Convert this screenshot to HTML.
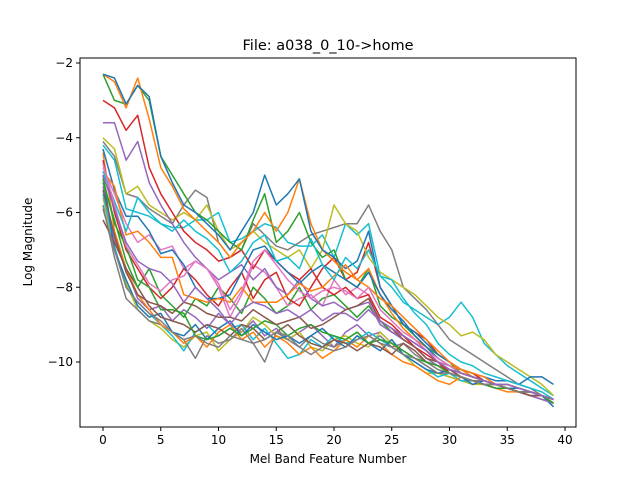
<!DOCTYPE html>
<html><head><meta charset="utf-8">
<style>
body{margin:0;background:#fff;}
svg{display:block;font-family:"DejaVu Sans","Liberation Sans",sans-serif;}
</style></head>
<body>
<svg id="chart" width="640" height="480"></svg>
<script>
const categories = Array.from({length:40},(_, i)=>i);
const xTicks = [0,5,10,15,20,25,30,35,40];
const yTicks = [-2,-4,-6,-8,-10];
const s1=[-2.3,-2.4,-3.1,-2.6,-2.9,-4.5,-5.2,-5.8,-6.0,-6.3,-6.6,-7.0,-6.5,-6.0,-5.0,-5.8,-5.5,-5.1,-6.5,-7.0,-7.2,-7.5,-7.3,-6.5,-8.0,-8.5,-9.0,-9.2,-9.5,-9.8,-10.0,-10.2,-10.3,-10.4,-10.5,-10.5,-10.6,-10.4,-10.4,-10.6];
const s2=[-2.3,-2.5,-3.2,-2.4,-3.5,-4.8,-5.3,-5.9,-6.2,-6.5,-6.8,-7.2,-6.8,-6.5,-6.0,-6.5,-6.0,-5.1,-6.3,-7.0,-7.3,-7.6,-7.8,-7.5,-8.2,-8.7,-9.1,-9.4,-9.6,-9.9,-10.1,-10.2,-10.4,-10.5,-10.6,-10.7,-10.7,-10.8,-10.9,-11.0];
const s3=[-2.3,-3.0,-3.1,-2.6,-3.0,-4.5,-5.0,-5.5,-6.0,-6.2,-6.5,-6.8,-7.0,-6.2,-5.5,-6.8,-6.5,-6.0,-6.8,-7.2,-7.0,-7.8,-8.0,-7.5,-8.5,-8.8,-9.0,-9.3,-9.6,-9.8,-10.0,-10.3,-10.4,-10.5,-10.6,-10.7,-10.8,-10.8,-10.9,-11.1];
const s4=[-3.0,-3.2,-3.8,-3.4,-4.8,-5.5,-6.0,-6.5,-6.8,-7.0,-7.3,-7.2,-7.0,-7.5,-7.0,-7.3,-7.6,-7.8,-7.5,-8.0,-8.2,-8.0,-8.3,-8.2,-8.8,-9.0,-9.3,-9.6,-9.8,-10.0,-10.3,-10.4,-10.5,-10.6,-10.6,-10.7,-10.8,-10.8,-10.9,-11.0];
const s5=[-3.6,-3.6,-4.6,-4.1,-5.2,-5.8,-6.3,-6.8,-7.2,-7.5,-7.8,-7.6,-7.4,-7.8,-7.5,-8.0,-8.2,-7.8,-8.3,-8.5,-8.4,-8.6,-8.5,-8.4,-9.0,-9.2,-9.4,-9.6,-9.9,-10.1,-10.3,-10.4,-10.5,-10.6,-10.7,-10.7,-10.8,-10.9,-11.0,-11.1];
const s6=[-4.0,-4.3,-5.5,-5.3,-5.8,-6.0,-6.2,-6.0,-6.2,-5.8,-6.5,-7.0,-6.8,-6.5,-6.8,-7.0,-7.2,-7.0,-7.5,-7.0,-5.8,-6.3,-6.5,-7.2,-7.6,-7.8,-8.0,-8.2,-8.5,-8.8,-9.0,-9.3,-9.2,-9.4,-9.8,-10.0,-10.2,-10.4,-10.6,-10.9];
const s7=[-4.1,-4.5,-5.5,-5.6,-5.9,-6.1,-6.3,-5.8,-5.4,-5.6,-6.8,-7.2,-7.0,-6.3,-6.6,-6.9,-7.0,-6.8,-6.6,-6.5,-6.4,-6.3,-6.3,-5.8,-6.5,-7.0,-8.0,-8.3,-8.6,-9.0,-9.4,-9.6,-9.8,-10.0,-10.2,-10.4,-10.6,-10.7,-10.9,-11.1];
const s8=[-4.2,-4.6,-5.9,-6.0,-6.1,-6.3,-6.4,-6.4,-6.2,-6.2,-6.0,-6.8,-6.7,-6.5,-6.3,-6.4,-6.8,-6.9,-6.9,-6.6,-7.2,-6.3,-6.6,-6.3,-7.7,-8.0,-8.4,-8.6,-8.8,-9.0,-8.8,-8.4,-8.8,-9.5,-9.8,-10.1,-10.3,-10.5,-10.7,-10.9];
const s9=[-4.8,-5.5,-6.3,-6.8,-6.6,-7.0,-6.9,-7.5,-7.3,-7.5,-8.0,-8.8,-8.2,-7.4,-7.6,-8.0,-8.5,-8.3,-8.2,-8.5,-7.8,-8.2,-8.0,-8.2,-9.0,-9.2,-9.3,-9.5,-9.7,-10.0,-10.1,-10.3,-10.4,-10.5,-10.6,-10.7,-10.8,-10.9,-10.9,-11.1];
const s10=[-6.2,-6.8,-7.5,-8.0,-8.5,-8.8,-8.9,-9.0,-9.2,-9.0,-9.1,-9.3,-9.0,-9.1,-9.4,-9.2,-9.0,-9.3,-9.5,-9.6,-9.4,-9.5,-9.7,-9.5,-9.6,-9.8,-9.5,-9.7,-10.0,-10.1,-10.2,-10.4,-10.5,-10.6,-10.6,-10.7,-10.8,-10.8,-10.9,-11.0];
const s11=[-5.0,-7.0,-7.8,-8.5,-8.8,-8.7,-9.2,-9.3,-9.0,-9.4,-9.1,-8.9,-9.3,-9.0,-9.2,-9.4,-9.3,-9.5,-9.3,-9.1,-9.4,-9.6,-9.3,-9.5,-9.7,-9.4,-9.8,-10.0,-10.2,-10.3,-10.2,-10.4,-10.6,-10.5,-10.6,-10.7,-10.8,-10.9,-10.9,-11.2];
const s12=[-4.4,-6.5,-7.5,-8.2,-8.6,-9.0,-9.2,-9.5,-9.3,-9.6,-9.2,-9.0,-9.4,-9.2,-9.6,-9.3,-9.5,-9.8,-9.6,-9.9,-9.7,-9.4,-9.6,-9.3,-9.5,-9.8,-10.0,-10.1,-10.3,-10.5,-10.6,-10.4,-10.5,-10.6,-10.7,-10.8,-10.8,-10.9,-11.0,-11.1];
const s13=[-5.2,-6.2,-7.3,-8.0,-7.5,-8.2,-8.5,-8.8,-8.3,-8.5,-8.0,-8.3,-8.7,-8.0,-8.3,-8.7,-8.5,-8.0,-8.6,-8.3,-8.2,-8.5,-8.8,-8.5,-8.9,-9.2,-9.3,-9.5,-9.7,-10.0,-10.1,-10.2,-10.3,-10.5,-10.6,-10.6,-10.7,-10.8,-10.9,-11.0];
const s14=[-5.8,-7.2,-8.3,-8.6,-8.9,-9.0,-9.2,-9.4,-9.9,-9.3,-9.5,-9.4,-9.1,-9.5,-10.0,-9.2,-9.4,-9.6,-9.3,-9.5,-9.6,-9.4,-9.2,-9.5,-9.3,-9.6,-9.5,-9.8,-10.0,-10.2,-10.3,-10.4,-10.5,-10.5,-10.6,-10.7,-10.7,-10.8,-10.9,-11.0];
const s15=[-5.5,-6.9,-8.0,-8.4,-8.7,-9.0,-9.3,-9.7,-9.2,-9.0,-9.3,-9.1,-9.0,-9.4,-9.1,-9.5,-9.9,-9.8,-9.4,-9.6,-9.3,-9.5,-9.4,-9.2,-9.4,-9.6,-9.8,-10.0,-10.2,-10.4,-10.3,-10.5,-10.5,-10.6,-10.7,-10.7,-10.8,-10.9,-11.0,-11.1];
const s16=[-5.6,-7.0,-7.9,-8.6,-8.9,-9.1,-9.4,-9.6,-9.3,-9.2,-9.7,-9.4,-9.2,-8.8,-9.0,-9.3,-9.4,-9.2,-9.6,-9.7,-9.4,-9.3,-9.5,-9.6,-9.2,-9.5,-9.8,-10.1,-10.3,-10.3,-10.4,-10.5,-10.6,-10.6,-10.6,-10.7,-10.8,-10.8,-10.9,-11.0];
const s17=[-4.6,-6.0,-7.0,-7.5,-8.0,-8.3,-8.0,-7.5,-7.8,-8.2,-8.5,-8.0,-7.6,-8.3,-7.8,-7.6,-8.3,-8.5,-8.0,-7.5,-7.2,-7.8,-7.6,-6.8,-8.0,-8.5,-9.0,-9.2,-9.4,-9.8,-10.0,-10.2,-10.3,-10.5,-10.6,-10.6,-10.7,-10.8,-10.9,-11.0];
const s18=[-5.3,-6.7,-7.5,-8.3,-8.6,-8.5,-8.9,-8.6,-8.8,-9.1,-8.7,-9.0,-9.2,-8.9,-9.3,-9.1,-9.4,-9.2,-9.0,-9.3,-9.6,-9.2,-9.0,-9.3,-9.2,-9.5,-9.7,-9.9,-10.1,-10.3,-10.4,-10.5,-10.5,-10.6,-10.7,-10.7,-10.8,-10.8,-10.9,-11.0];
const s19=[-4.3,-5.4,-6.1,-6.1,-6.5,-7.1,-7.0,-7.4,-8.0,-8.3,-8.3,-8.2,-7.6,-7.0,-6.9,-7.3,-7.6,-7.9,-7.6,-7.4,-7.6,-7.8,-8.0,-7.6,-8.2,-8.6,-8.9,-9.3,-9.6,-9.9,-10.1,-10.3,-10.4,-10.5,-10.6,-10.7,-10.7,-10.8,-10.9,-11.0];
const s20=[-4.9,-5.3,-6.6,-6.5,-6.8,-7.2,-7.2,-8.2,-8.3,-8.4,-8.3,-8.4,-8.0,-8.4,-8.4,-8.4,-8.2,-7.9,-8.1,-8.0,-7.7,-7.4,-7.8,-8.0,-8.3,-8.5,-8.8,-9.1,-9.4,-9.7,-10.0,-10.2,-10.3,-10.4,-10.6,-10.6,-10.7,-10.8,-10.9,-11.0];
const s21=[-4.9,-5.7,-6.5,-5.6,-6.0,-6.3,-6.5,-6.2,-6.5,-6.7,-7.0,-7.6,-7.3,-6.8,-6.6,-7.3,-7.2,-7.5,-6.7,-7.4,-7.8,-7.2,-7.5,-7.0,-7.7,-7.8,-8.3,-8.7,-9.0,-9.5,-9.8,-10.0,-10.1,-10.3,-10.4,-10.5,-10.6,-10.7,-10.8,-11.0];
const s22=[-5.1,-6.3,-6.9,-7.8,-8.0,-8.6,-8.6,-8.7,-9.3,-9.4,-9.3,-9.1,-9.3,-9.1,-8.9,-9.0,-9.3,-9.1,-9.0,-9.2,-9.3,-9.4,-9.2,-9.5,-9.4,-9.5,-9.7,-9.9,-10.0,-10.1,-10.3,-10.4,-10.5,-10.6,-10.7,-10.7,-10.8,-10.8,-10.9,-11.1];
const s23=[-4.7,-5.8,-6.9,-7.4,-7.9,-8.1,-7.8,-7.7,-7.3,-7.5,-7.9,-8.6,-8.1,-7.3,-7.0,-7.4,-7.8,-8.1,-8.3,-8.1,-8.0,-8.1,-8.3,-8.0,-8.6,-8.9,-9.2,-9.4,-9.7,-9.9,-10.1,-10.3,-10.4,-10.5,-10.6,-10.6,-10.7,-10.8,-10.9,-11.0];
const s24=[-5.4,-6.6,-7.6,-8.2,-8.4,-8.5,-8.7,-8.4,-8.5,-8.7,-8.8,-8.8,-8.9,-8.6,-8.8,-9.0,-8.9,-8.8,-9.1,-9.0,-8.8,-8.6,-8.5,-8.3,-8.9,-9.1,-9.4,-9.6,-9.9,-10.0,-10.2,-10.3,-10.4,-10.5,-10.6,-10.7,-10.8,-10.9,-10.9,-11.0];
const s25=[-5.9,-7.0,-8.0,-8.4,-8.7,-8.9,-9.2,-9.4,-9.3,-9.5,-9.6,-9.3,-9.4,-9.5,-9.4,-9.2,-9.3,-9.6,-9.8,-9.6,-9.7,-9.6,-9.4,-9.3,-9.5,-9.6,-9.8,-9.9,-10.1,-10.3,-10.3,-10.4,-10.5,-10.6,-10.6,-10.7,-10.8,-10.8,-10.9,-11.0];
const s26=[-5.0,-5.9,-6.8,-7.3,-7.5,-7.6,-7.9,-8.4,-8.0,-8.3,-8.6,-9.0,-8.6,-8.4,-8.5,-8.7,-8.6,-8.8,-8.6,-8.9,-8.7,-8.7,-8.9,-8.6,-8.9,-9.1,-9.3,-9.5,-9.7,-10.0,-10.2,-10.3,-10.4,-10.5,-10.6,-10.6,-10.7,-10.8,-10.9,-11.0];
const series=[s18,s16,s15,s14,s12,s11,s10,s13,s9,s17,s8,s7,s6,s5,s4,s3,s2,s1,s19,s20,s21,s22,s23,s24,s25,s26];
const seriesColors=["#9467bd","#bcbd22","#17becf","#7f7f7f","#ff7f0e","#1f77b4","#8c564b","#2ca02c","#e377c2","#d62728","#17becf","#7f7f7f","#bcbd22","#9467bd","#d62728","#2ca02c","#ff7f0e","#1f77b4","#1f77b4","#ff7f0e","#17becf","#2ca02c","#e377c2","#8c564b","#7f7f7f","#9467bd"];

const NS="http://www.w3.org/2000/svg";
const svg=document.getElementById('chart');
const L=80,R=576,T=58,B=427;
const x=v=>103+(v)*(565-103)/40;
const y=v=>63+(-2-v)*(362-63)/8;
function mk(tag,attrs,parent){const e=document.createElementNS(NS,tag);for(const k in attrs)e.setAttribute(k,attrs[k]);(parent||svg).appendChild(e);return e;}

const clipDefs=mk('defs',{});
const cp=mk('clipPath',{id:'pc'},clipDefs);
mk('rect',{x:L,y:T,width:R-L,height:B-T},cp);
const g=mk('g',{'clip-path':'url(#pc)'});


series.forEach((s,i)=>{
  const p=mk('polyline',{points:s.map((v,j)=>x(categories[j]).toFixed(1)+','+y(v).toFixed(1)).join(' '),fill:'none',stroke:seriesColors[i],'stroke-width':1.5,'stroke-linejoin':'round'},g);
  
  
});
const frame=mk('rect',{x:L,y:T,width:R-L,height:B-T,fill:'none',stroke:'#000','stroke-width':1});



xTicks.forEach(t=>{
  mk('line',{x1:x(t),x2:x(t),y1:B,y2:B+4,stroke:'#000'});
  const tx=mk('text',{x:x(t),y:B+17,'font-size':12,'text-anchor':'middle'});
  tx.textContent=t;
  
  
});
yTicks.forEach(t=>{
  mk('line',{x1:L-4,x2:L,y1:y(t),y2:y(t),stroke:'#000'});
  const tx=mk('text',{x:L-7,y:y(t)+4,'font-size':12,'text-anchor':'end'});
  tx.textContent='\u2212'+Math.abs(t);
  
  
});
const title=mk('text',{x:328,y:50,'font-size':14.5,'text-anchor':'middle'});
title.textContent='File: a038_0_10->home';


const xl=mk('text',{x:328,y:463,'font-size':12,'text-anchor':'middle'});
xl.textContent='Mel Band Feature Number';


const yl=mk('text',{x:32,y:242,'font-size':12,'text-anchor':'middle',transform:'rotate(-90 32 242)'});
yl.textContent='Log Magnitude';


</script>
</body></html>
